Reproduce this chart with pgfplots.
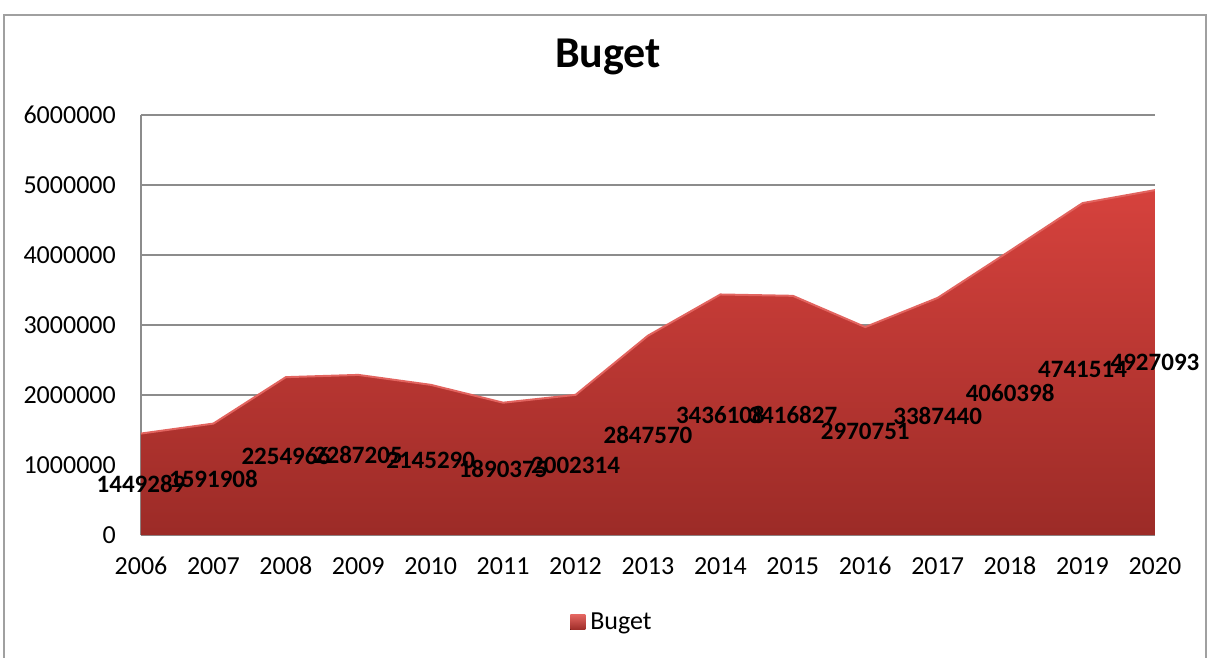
\documentclass[border=0pt]{standalone}
\usepackage{fontspec}
\setmainfont{Carlito}
\usepackage{pgfplots}
\pgfplotsset{compat=1.18}
\usepackage{pgfplotstable}

\definecolor{areatop}{RGB}{214,66,61}
\definecolor{areabot}{RGB}{156,43,39}
\definecolor{areaedge}{RGB}{226,100,95}
\definecolor{gridgray}{RGB}{140,140,140}
\definecolor{framegray}{RGB}{160,160,160}

% budget per year
\pgfplotstableread{
year v
2006 1449289
2007 1591908
2008 2254966
2009 2287205
2010 2145290
2011 1890375
2012 2002314
2013 2847570
2014 3436108
2015 3416827
2016 2970751
2017 3387440
2018 4060398
2019 4741514
2020 4927093
}\budget

\begin{document}
\begin{tikzpicture}
\useasboundingbox (-141pt,-122pt) rectangle (1069pt,535pt);
\draw[framegray, line width=1.3pt] (-137pt,-160pt) rectangle (1065pt,520pt);
\node[anchor=base, font=\bfseries\fontsize{44}{44}\selectfont] at (467pt,467pt) {Buget};
\begin{axis}[
    at={(0pt,0pt)}, anchor=south west,
    scale only axis,
    width=1014pt, height=420pt,
    xmin=2006, xmax=2020,
    ymin=0, ymax=6000000,
    axis lines*=left,
    axis line style={gridgray, line width=1.3pt},
    ymajorgrids,
    grid style={gridgray, line width=1.3pt},
    major tick length=0pt,
    xtick={2006,...,2020},
    ytick={0,1000000,...,6000000},
    scaled y ticks=false,
    /pgf/number format/.cd, fixed, precision=0, 1000 sep={}, assume math mode=true,
    /pgfplots/.cd,
    tick label style={font=\fontsize{26}{26}\selectfont},
    yticklabel style={anchor=east, inner sep=0pt, xshift=-25pt},
    xticklabel style={anchor=north, inner sep=0pt, yshift=-22pt},
    legend style={at={(0.4645,-0.207)}, anchor=center, draw=none,
        font=\fontsize{26}{26}\selectfont, inner sep=0pt},
    legend image code/.code={
        \fill[top color=areaedge, bottom color=areabot] (0pt,-8pt) rectangle (15pt,7pt);},
    legend style={/tikz/every even column/.append style={column sep=0pt}},
    legend cell align=left,
]
\addplot[draw=none, top color=areatop, bottom color=areabot]
    table[x=year, y=v] {\budget} \closedcycle;
\addlegendentry{\hspace{3pt}Buget}
\addplot[areaedge, line width=2pt, forget plot] table[x=year, y=v] {\budget};
\addplot[draw=none, mark=none, forget plot,
    nodes near coords, point meta=explicit symbolic,
    nodes near coords style={anchor=center, inner sep=0pt, text=black,
        font=\bfseries\fontsize{25}{25}\selectfont}]
    table[x=year, y expr=\thisrow{v}/2, meta=v] {\budget};
\end{axis}
\end{tikzpicture}
\end{document}
